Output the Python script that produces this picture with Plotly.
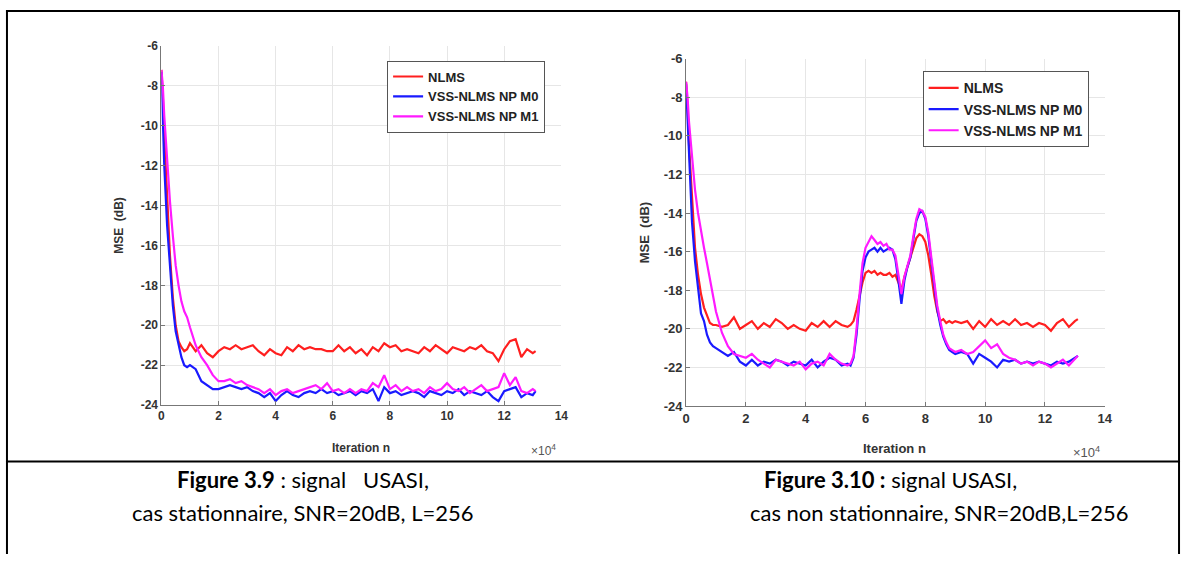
import plotly.graph_objects as go

# ---------------- data (x in units of 10^4 iterations) ----------------
n_left = [0, 0.05, 0.1, 0.2, 0.3, 0.4, 0.5, 0.6, 0.7, 0.8, 0.9, 1.0, 1.2, 1.4, 1.6, 1.8, 2.0,
          2.2, 2.4, 2.6, 2.8, 3.0, 3.2, 3.4, 3.6, 3.8, 4.0, 4.2, 4.4, 4.6, 4.8, 5.0, 5.2, 5.4,
          5.6, 5.8, 6.0, 6.2, 6.4, 6.6, 6.8, 7.0, 7.2, 7.4, 7.6, 7.8, 8.0, 8.2, 8.4, 8.6, 8.8,
          9.0, 9.2, 9.4, 9.6, 9.8, 10.0, 10.2, 10.4, 10.6, 10.8, 11.0, 11.2, 11.4, 11.6, 11.8,
          12.0, 12.2, 12.4, 12.6, 12.8, 13.0, 13.1]

nlms_left = [-7.2, -8.5, -10.5, -13.5, -16.5, -18.6, -20.0, -20.8, -21.1, -21.3, -21.2, -20.9, -21.3, -21.0, -21.4, -21.6, -21.3,
             -21.1, -21.2, -21.0, -21.2, -21.1, -21.0, -21.3, -21.5, -21.2, -21.4, -21.5, -21.1, -21.3, -21.0, -21.2, -21.1, -21.2,
             -21.2, -21.3, -21.3, -21.0, -21.3, -21.1, -21.4, -21.2, -21.5, -21.1, -21.3, -20.9, -21.1, -21.0, -21.3, -21.2, -21.3,
             -21.4, -21.1, -21.3, -21.0, -21.2, -21.4, -21.1, -21.2, -21.3, -21.1, -21.2, -21.0, -21.3, -21.4, -21.8,
             -21.2, -20.8, -20.7, -21.6, -21.2, -21.4, -21.3]

m0_left = [-7.3, -9.5, -12.0, -15.0, -17.3, -19.0, -20.3, -21.0, -21.6, -22.0, -22.1, -22.0, -22.2, -22.8, -23.0, -23.2, -23.2,
           -23.1, -23.0, -23.1, -23.2, -23.1, -23.3, -23.4, -23.6, -23.4, -23.8, -23.5, -23.3, -23.5, -23.6, -23.4, -23.3, -23.4,
           -23.2, -23.4, -23.3, -23.5, -23.4, -23.3, -23.5, -23.3, -23.4, -23.2, -23.8, -23.1, -23.4, -23.3, -23.5, -23.4, -23.3,
           -23.4, -23.6, -23.3, -23.4, -23.5, -23.3, -23.4, -23.2, -23.5, -23.3, -23.4, -23.5, -23.3, -23.6, -23.8,
           -23.3, -23.2, -23.1, -23.6, -23.4, -23.5, -23.3]

m1_left = [-7.2, -8.0, -9.5, -11.8, -13.8, -15.5, -17.0, -18.0, -18.8, -19.3, -19.6, -20.1, -21.0, -21.6, -22.0, -22.5, -22.8,
           -22.8, -22.7, -22.9, -22.8, -23.0, -23.1, -23.2, -23.4, -23.2, -23.5, -23.3, -23.2, -23.4, -23.3, -23.2, -23.1, -23.0,
           -23.2, -22.9, -23.3, -23.2, -23.4, -23.2, -23.4, -23.2, -23.3, -22.9, -23.1, -22.5, -23.2, -23.0, -23.3, -23.1, -23.3,
           -23.2, -23.4, -23.1, -23.3, -23.2, -22.9, -23.2, -23.3, -23.1, -23.4, -23.2, -23.0, -23.3, -23.2, -23.1,
           -22.4, -23.0, -22.6, -23.3, -23.4, -23.2, -23.3]

n_right = [0, 0.05, 0.1, 0.2, 0.3, 0.4, 0.5, 0.6, 0.7, 0.8, 0.9, 1.0, 1.2, 1.4, 1.6, 1.8, 2.0,
           2.2, 2.4, 2.6, 2.8, 3.0, 3.2, 3.4, 3.6, 3.8, 4.0, 4.2, 4.4, 4.6, 4.8, 5.0, 5.2, 5.4,
           5.5, 5.6, 5.7, 5.8, 5.9, 6.0, 6.1, 6.2, 6.3, 6.4, 6.5, 6.6, 6.7, 6.8, 6.9, 7.0,
           7.1, 7.2, 7.3, 7.4, 7.5, 7.6, 7.7, 7.8, 7.9, 8.0, 8.1, 8.2, 8.3, 8.4, 8.5, 8.6,
           8.7, 8.8, 8.9, 9.0,
           9.2, 9.4, 9.6, 9.8, 10.0, 10.2, 10.4, 10.6, 10.8, 11.0, 11.2, 11.4, 11.6, 11.8,
           12.0, 12.2, 12.4, 12.6, 12.8, 13.0, 13.1]

nlms_right = [-7.2, -8.5, -10.5, -13.5, -15.8, -17.2, -18.2, -18.9, -19.3, -19.7, -19.8, -19.8, -19.9, -19.8, -19.4, -20.0, -19.8,
              -19.6, -20.0, -19.7, -19.9, -19.5, -19.7, -20.0, -19.8, -20.0, -20.1, -19.7, -19.9, -19.6, -19.9, -19.6, -19.8, -19.9,
              -19.8, -19.6, -19.0, -18.2, -17.6, -17.1, -17.0, -17.1, -17.0, -17.2, -17.1, -17.2, -17.2, -17.1, -17.3, -17.2,
              -17.6, -18.0, -17.3, -16.8, -16.4, -15.8, -15.3, -15.1, -15.2, -15.5, -16.2, -17.2, -18.3, -19.1, -19.6, -19.5,
              -19.7, -19.6, -19.7, -19.6,
              -19.7, -19.6, -20.0, -19.6, -19.9, -19.5, -19.8, -19.6, -19.8, -19.5, -19.8, -19.7, -19.9, -19.7,
              -19.8, -20.1, -19.7, -19.5, -19.9, -19.6, -19.5]

m0_right = [-7.3, -9.0, -11.5, -14.5, -16.5, -18.0, -19.2, -19.6, -20.3, -20.7, -20.9, -21.0, -21.2, -21.4, -21.2, -21.7, -21.9,
            -21.6, -21.9, -21.7, -21.8, -21.6, -21.7, -21.9, -21.7, -21.8, -21.9, -21.6, -22.0, -21.7, -21.5, -21.6, -21.9, -21.8,
            -21.9, -21.5, -20.3, -18.5, -17.0, -16.3, -16.0, -15.9, -15.8, -16.0, -15.8, -16.0, -15.9, -15.8, -15.9, -16.4,
            -17.5, -18.7, -17.5, -16.8, -16.3, -15.3, -14.4, -14.0, -13.9, -14.3, -15.2, -16.5, -17.8, -19.0, -19.8, -20.4,
            -20.8, -21.1, -21.2, -21.3,
            -21.2, -21.3, -21.8, -21.3, -21.5, -21.7, -22.0, -21.6, -21.7, -21.6, -21.8, -21.7, -21.8, -21.7,
            -21.8, -21.9, -21.7, -21.8, -21.7, -21.5, -21.4]

m1_right = [-7.2, -8.0, -9.3, -11.2, -12.8, -14.0, -15.0, -15.8, -16.6, -17.5, -18.4, -19.1, -20.2, -20.9, -21.3, -21.4, -21.5,
            -21.3, -21.6, -21.8, -22.0, -21.6, -21.7, -21.8, -21.9, -21.7, -22.1, -21.8, -21.7, -21.9, -21.3, -21.6, -21.8, -21.9,
            -21.8, -21.4, -20.0, -18.2, -16.6, -15.8, -15.5, -15.2, -15.4, -15.6, -15.5, -15.7, -15.6, -15.9, -15.9, -16.2,
            -17.2, -18.2, -17.3, -16.7, -16.2, -15.2, -14.3, -13.8, -13.9, -14.2, -15.0, -16.3, -17.6, -18.8, -19.6, -20.3,
            -20.7, -21.0, -21.1, -21.2,
            -21.1, -21.3, -21.2, -20.9, -20.6, -21.0, -20.8, -21.3, -21.5, -21.6, -21.8, -21.7, -21.9, -21.7,
            -21.8, -22.0, -21.8, -21.6, -21.9, -21.6, -21.4]

series_names = ["NLMS", "VSS-NLMS NP M0", "VSS-NLMS NP M1"]
series_colors = ["#ff1f1f", "#1a1aff", "#ff1aff"]
x_ticks = [0, 2, 4, 6, 8, 10, 12, 14]
y_ticks = [-6, -8, -10, -12, -14, -16, -18, -20, -22, -24]
y_tick_labels = ["-6", "-8", "-10", "-12", "-14", "-16", "-18", "-20", "-22", "-24"]

W, H = 1190, 562
def px(x):
    return x / W
def py(y):
    return 1 - y / H

fig = go.Figure()

left_data = [nlms_left, m0_left, m1_left]
right_data = [nlms_right, m0_right, m1_right]
for name, col, yv in zip(series_names, series_colors, left_data):
    fig.add_trace(go.Scatter(x=n_left, y=yv, mode="lines", name=name,
                             line=dict(color=col, width=2.2), xaxis="x", yaxis="y",
                             legend="legend"))
for name, col, yv in zip(series_names, series_colors, right_data):
    fig.add_trace(go.Scatter(x=n_right, y=yv, mode="lines", name=name,
                             line=dict(color=col, width=2.2), xaxis="x2", yaxis="y2",
                             legend="legend2"))

tick_font_l = dict(family="Liberation Sans, Arial", size=12, color="#333", weight="bold")
tick_font_r = dict(family="Liberation Sans, Arial", size=13, color="#333", weight="bold")

def xax(domain, anchor, tf):
    return dict(domain=domain, anchor=anchor, range=[0, 14], tickvals=x_ticks,
                showgrid=True, gridcolor="#e6e6e6", gridwidth=1, zeroline=False,
                showline=True, linecolor="#777", linewidth=1, ticks="inside",
                ticklen=4, tickcolor="#777", tickfont=tf, mirror=False)

def yax(domain, anchor, tf):
    return dict(domain=domain, anchor=anchor, range=[-24, -6], tickvals=y_ticks,
                ticktext=y_tick_labels,
                showgrid=True, gridcolor="#e6e6e6", gridwidth=1, zeroline=False,
                showline=True, linecolor="#777", linewidth=1, ticks="inside",
                ticklen=4, tickcolor="#777", tickfont=tf, mirror=False)

fig.update_layout(
    width=W, height=H,
    margin=dict(l=0, r=0, t=0, b=0),
    paper_bgcolor="white", plot_bgcolor="white",
    xaxis=xax([px(159), px(563)], "y", tick_font_l),
    yaxis=yax([py(409), py(40)], "x", tick_font_l),
    xaxis2=xax([px(689), px(1112)], "y2", tick_font_r),
    yaxis2=yax([py(410), py(53)], "x2", tick_font_r),
    legend=dict(x=px(387), y=py(55), xanchor="left", yanchor="top",
                bgcolor="white", bordercolor="#555", borderwidth=1,
                font=dict(family="Liberation Sans, Arial", size=13, color="#222", weight="bold"),
                tracegroupgap=0, itemwidth=30),
    legend2=dict(x=px(928), y=py(66), xanchor="left", yanchor="top",
                 bgcolor="white", bordercolor="#555", borderwidth=1,
                 font=dict(family="Liberation Sans, Arial", size=14, color="#222", weight="bold"),
                 tracegroupgap=0, itemwidth=30),
    showlegend=True,
)

def A(text, x, y, font, **kw):
    d = dict(text=text, x=px(x), y=py(y), xref="paper", yref="paper",
             xanchor="center", yanchor="middle", showarrow=False, font=font)
    d.update(kw)
    return d

lab_l = dict(family="Liberation Sans, Arial", size=12, color="#333", weight="bold")
lab_r = dict(family="Liberation Sans, Arial", size=13, color="#333", weight="bold")
ann = [
    A("MSE  (dB)", 116, 224, lab_l, textangle=-90),
    A("MSE  (dB)", 647, 232, lab_r, textangle=-90),
    A("Iteration n", 361, 453, lab_l),
    A("Iteration n", 900, 454, lab_r),
    A("×10<sup>4</sup>", 545, 455, dict(family="Liberation Sans, Arial", size=12, color="#555")),
    A("×10<sup>4</sup>", 1094, 457, dict(family="Liberation Sans, Arial", size=13, color="#555")),
]

# captions
cap_font = dict(family="Lato, Carlito, Calibri, sans-serif", size=22, color="#000")
ann += [
    A("<b>Figure 3.9</b> : signal &nbsp; USASI,", 302, 485, cap_font),
    A("cas stationnaire, SNR=20dB, L=256", 302, 519, cap_font),
    A("<b>Figure 3.10 :</b> signal USASI,", 896, 485, cap_font),
    A("cas non stationnaire, SNR=20dB,L=256", 945, 519, cap_font),
]
fig.update_layout(annotations=ann)

# frame lines
shapes = [
    dict(type="line", xref="paper", yref="paper", x0=px(2), x1=px(1188), y0=py(4), y1=py(4),
         line=dict(color="black", width=2)),
    dict(type="line", xref="paper", yref="paper", x0=px(3), x1=px(3), y0=py(3), y1=py(562),
         line=dict(color="black", width=2)),
    dict(type="line", xref="paper", yref="paper", x0=px(1187), x1=px(1187), y0=py(3), y1=py(562),
         line=dict(color="black", width=2)),
    dict(type="line", xref="paper", yref="paper", x0=px(2), x1=px(1188), y0=py(467), y1=py(467),
         line=dict(color="black", width=2)),
]
fig.update_layout(shapes=shapes)

fig.write_html("out.html")
